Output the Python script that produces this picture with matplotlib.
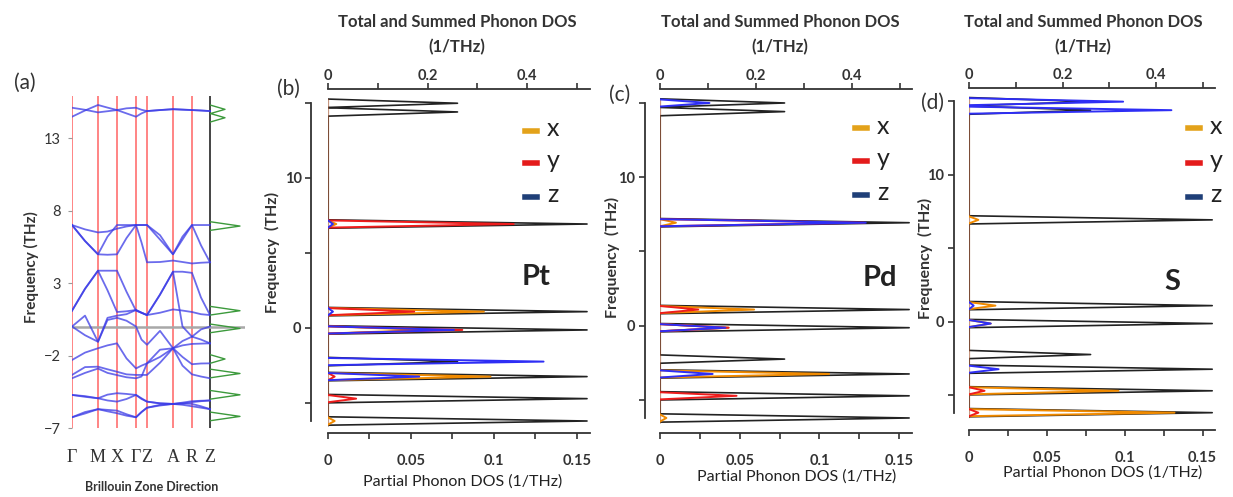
import numpy as np
import matplotlib.pyplot as plt
from matplotlib.lines import Line2D

plt.rcParams['font.family'] = ['Lato', 'DejaVu Sans']

W, H = 1233, 497

# ---- (a) phonon dispersion along the high-symmetry path ----
kpath_labels = ['Γ', 'M', 'X', 'Γ', 'Z', 'A', 'R', 'Z']
kpath_pos = [0, 26, 45, 64, 75, 101, 120, 138]
# band frequencies (THz) at the symmetry points and halfway between them
k_samples = [0, 13, 26, 35.5, 45, 54.5, 64, 69.5, 75, 88, 101, 110.5, 120, 129, 138]
bands = [
    [15.09, 14.95, 14.77, 14.85, 14.93, 15.05, 15.09, 14.95, 14.86, 14.93, 15.0, 14.97, 14.93, 14.9, 14.86],
    [14.47, 14.9, 15.28, 15.1, 14.93, 14.7, 14.47, 14.7, 14.86, 14.93, 14.98, 14.95, 14.93, 14.9, 14.86],
    [7.0, 6.7, 6.49, 6.55, 6.75, 6.9, 7.0, 7.0, 7.0, 6.0, 4.98, 6.2, 7.0, 7.0, 7.0],
    [7.0, 5.9, 4.98, 6.2, 7.0, 7.0, 7.0, 7.0, 7.0, 6.3, 4.98, 6.0, 7.0, 5.6, 4.43],
    [7.0, 5.9, 4.98, 4.95, 4.98, 6.1, 7.0, 5.8, 4.43, 4.45, 4.55, 4.45, 4.35, 4.4, 4.43],
    [1.09, 2.6, 3.85, 3.85, 3.85, 2.4, 1.09, 0.95, 0.79, 2.2, 3.78, 3.78, 3.7, 2.0, 0.79],
    [1.09, 2.6, 3.85, 2.5, 1.0, 1.05, 1.14, 0.95, 0.79, 2.2, 3.78, 0.0, -0.7, -0.9, -1.16],
    [0.0, 0.75, -1.05, 0.6, 0.75, 0.85, 1.14, 0.95, 0.79, 0.95, 1.18, 1.1, 1.0, 0.85, 0.79],
    [0.0, -0.6, -1.05, 0.45, 0.6, 0.4, 0.0, -0.9, -1.26, -0.3, -1.5, -1.0, -0.7, -0.2, 0.0],
    [-2.31, -1.8, -1.5, -1.3, -1.16, -2.2, -2.89, -2.7, -2.54, -1.6, -1.5, -1.3, -1.2, -1.18, -1.16],
    [-3.34, -2.8, -2.77, -2.95, -3.12, -3.3, -3.34, -3.34, -3.34, -2.5, -1.5, -2.1, -2.6, -2.55, -2.54],
    [-3.57, -3.2, -2.9, -3.2, -3.35, -3.5, -3.57, -3.45, -2.54, -2.1, -1.5, -2.7, -3.3, -3.45, -3.57],
    [-4.72, -4.8, -4.95, -4.7, -4.6, -4.65, -4.72, -5.0, -5.18, -5.3, -5.34, -5.25, -5.15, -5.12, -5.1],
    [-4.72, -4.85, -4.95, -5.1, -5.18, -5.0, -4.72, -4.95, -5.18, -5.3, -5.34, -5.4, -5.5, -5.6, -5.7],
    [-6.26, -5.9, -5.7, -5.85, -5.98, -6.15, -6.26, -5.9, -5.6, -5.4, -5.34, -5.3, -5.34, -5.5, -5.7],
    [-6.26, -6.0, -5.7, -5.75, -5.8, -6.05, -6.26, -5.9, -5.6, -5.45, -5.34, -5.32, -5.22, -5.15, -5.1],
]

# ---- (b)-(d) phonon DOS: peak centres (THz) and peak heights (1/THz) ----
dos_freq = [14.98, 14.4, 6.93, 1.09, -0.13, -2.24, -3.24, -4.71, -6.2]
dos_total = [0.26, 0.26, 0.52, 0.52, 0.52, 0.26, 0.52, 0.52, 0.52]

pt_x = [0, 0, 0.005, 0.094, 0.060, 0, 0.098, 0, 0.004]
pt_y = [0, 0, 0.112, 0.052, 0.081, 0, 0.004, 0.017, 0]
pt_z = [0, 0, 0.003, 0.003, 0.076, 0.130, 0.055, 0, 0]

pd_x = [0, 0, 0.010, 0.059, 0.043, 0, 0.106, 0, 0.004]
pd_y = [0, 0, 0.128, 0.024, 0.043, 0, 0, 0.048, 0]
pd_z = [0.031, 0, 0.129, 0, 0.041, 0, 0.033, 0, 0]

s_x = [0, 0, 0.006, 0.017, 0.014, 0, 0, 0.096, 0.132]
s_y = [0, 0, 0, 0, 0, 0, 0, 0.010, 0.006]
s_z = [0.099, 0.130, 0, 0.003, 0.014, 0, 0.019, 0, 0]

C_X, C_Y, C_Z = '#F08A00', '#EE1C1C', '#2E2EF5'
LEG_X, LEG_Y, LEG_Z = '#E3A21A', '#E41B1B', '#1F3F78'
INK = '#222222'

fig = plt.figure(figsize=(W / 100, H / 100), dpi=100)


def px_rect(x0, y0, x1, y1):
    return [x0 / W, 1 - y1 / H, (x1 - x0) / W, (y1 - y0) / H]


def ftext(x, y, s, **kw):
    kw.setdefault('ha', 'center')
    kw.setdefault('va', 'center')
    fig.text(x / W, 1 - y / H, s, **kw)


def outline(freqs, heights, hw=0.28, top=15.25, bottom=-6.5):
    # continuous DOS trace: baseline at zero with a narrow spike per peak
    xs, ys = [0.0], [top]
    for f, h in sorted(zip(freqs, heights), reverse=True):
        xs += [0.0, h, 0.0]
        ys += [f + hw, f, f - hw]
    xs.append(0.0)
    ys.append(bottom)
    return xs, ys


def spikes(freqs, heights, hw=0.3):
    xs, ys = [], []
    for f, h in zip(freqs, heights):
        if h <= 0:
            continue
        xs += [0.0, h, 0.0, np.nan]
        ys += [f + hw, f, f - hw, np.nan]
    return xs, ys


# ---------------- panel (a) ----------------
ax_a = fig.add_axes(px_rect(72, 96, 245, 428))
ax_a.set_xlim(0, 173)
ax_a.set_ylim(-7, 15.9)
for k in kpath_pos[:-1]:
    ax_a.axvline(k, color='#FF7B7B', lw=1.3, zorder=1)
ax_a.axvline(kpath_pos[-1], color='#444444', lw=1.4, zorder=1)
ax_a.axhline(0, color='#A8A8A8', lw=1.8, zorder=2)
for b in bands:
    ax_a.plot(k_samples, b, color='#3A3AE6', lw=1.3, alpha=0.75, zorder=3)
for s in ax_a.spines.values():
    s.set_visible(False)
ax_a.set_yticks([13, 8, 3, -2, -7])
ax_a.tick_params(axis='y', length=3, color='#999999', labelsize=10.5,
                 labelcolor='#333333', pad=5)
ax_a.set_xticks(kpath_pos)
ax_a.set_xticklabels(kpath_labels, family='Liberation Serif', fontsize=13, color='#333333')
ax_a.tick_params(axis='x', length=0, pad=15)

ax_g = fig.add_axes(px_rect(210, 96, 245, 428))
ax_g.set_xlim(0, 0.607)
ax_g.set_ylim(-7, 15.9)
ax_g.plot(*spikes(dos_freq, dos_total), color='#3C9A3C', lw=1.0)
ax_g.axis('off')

ftext(25, 83, '(a)', fontsize=15, color='#333333')
ftext(31, 267, 'Frequency (THz)', rotation=90, fontsize=11, weight='bold', color='#333333')
ftext(152, 487, 'Brillouin Zone Direction', fontsize=9, weight='bold', color='#333333')


# ---------------- panels (b)-(d) ----------------
def dos_panel(x0, x1, y0, y1, f_hi, f_lo, off, parts, elem, tag, tag_xy,
              elem_xy, title_x, xlab_xy, ylab_xy, leg_x, leg_ys):
    ax = fig.add_axes(px_rect(x0, y0, x1, y1))
    ax.set_xlim(0, 0.158)
    ax.set_ylim(f_lo, f_hi)
    axt = ax.twiny()
    axt.set_xlim(0, 0.526)
    axt.set_ylim(f_lo, f_hi)
    # total DOS (top scale) underneath, projected x/y/z spikes on top
    axt.set_zorder(ax.get_zorder() - 1)
    ax.patch.set_visible(False)
    axt.plot(*outline(dos_freq, dos_total), color=INK, lw=1.2)
    ax.plot([0, 0], [-6.5, 15.25], color='#A0522D', lw=0.9, alpha=0.6)
    for vals, c in zip(parts, (C_X, C_Y, C_Z)):
        ax.plot(*spikes(dos_freq, vals, hw=0.24), color=c, lw=1.4)

    ax.spines['top'].set_visible(False)
    ax.spines['right'].set_visible(False)
    ax.spines['left'].set_position(('outward', off))
    ax.spines['left'].set_bounds(-6.2, 15.0)
    for name in ('left', 'right', 'bottom'):
        axt.spines[name].set_visible(False)
    for s in (ax.spines['left'], ax.spines['bottom'], axt.spines['top']):
        s.set_color('#333333')
        s.set_linewidth(1.3)

    ax.set_xticks([0, 0.05, 0.1, 0.15])
    ax.set_xticklabels(['0', '0.05', '0.1', '0.15'])
    ax.set_xticks([0.025, 0.075, 0.125], minor=True)
    ax.set_yticks([-5, 0, 5, 10, 15])
    ax.set_yticklabels(['', '0', '', '10', ''])
    axt.set_xticks([0, 0.2, 0.4])
    axt.set_xticklabels(['0', '0.2', '0.4'])
    axt.set_xticks([0.1, 0.3, 0.5], minor=True)
    for a in (ax, axt):
        a.tick_params(which='both', direction='out', length=4, width=1.2,
                      color='#333333', labelsize=10.5, labelcolor='#333333')
        for lab in a.get_xticklabels() + a.get_yticklabels():
            lab.set_fontweight('bold')
    ax.tick_params(axis='x', pad=11)
    ax.tick_params(axis='y', pad=3)
    axt.tick_params(axis='x', pad=0)

    ftext(title_x, 22, 'Total and Summed Phonon DOS', fontsize=12, weight='bold', color='#333333')
    ftext(title_x, 47, '(1/THz)', fontsize=12, weight='bold', color='#333333')
    ftext(*tag_xy, tag, fontsize=15, color='#333333')
    ftext(*elem_xy, elem, fontsize=21, weight='bold', color='#222222')
    ftext(*xlab_xy, 'Partial Phonon DOS (1/THz)', fontsize=11.5, color='#222222')
    ftext(*ylab_xy, 'Frequency  (THz)', rotation=90, fontsize=11.5, weight='bold', color='#333333')

    for lab, c, ly in zip(('x', 'y', 'z'), (LEG_X, LEG_Y, LEG_Z), leg_ys):
        fig.add_artist(Line2D([leg_x / W, (leg_x + 12) / W], [1 - ly / H] * 2,
                              color=c, lw=4, transform=fig.transFigure))
        ftext(leg_x + 28, ly - 2, lab, fontsize=18, color='#222222')


dos_panel(328, 590, 89, 433, 15.93, -7.0, 12, (pt_x, pt_y, pt_z), 'Pt', '(b)',
          (288, 89), (536, 277), 457, (463, 482), (272, 252), 525, (131, 163, 197))
dos_panel(660, 912, 89, 433, 15.92, -7.21, 11, (pd_x, pd_y, pd_z), 'Pd', '(c)',
          (620, 95), (880, 278), 780, (797, 477), (612, 257), 855, (128, 161, 195))
dos_panel(969, 1215, 88, 430, 15.91, -7.38, 11, (s_x, s_y, s_z), 'S', '(d)',
          (933, 103), (1172, 282), 1083, (1103, 473), (925, 258), 1188, (128, 163, 197))

fig.savefig('out.png', dpi=100)
